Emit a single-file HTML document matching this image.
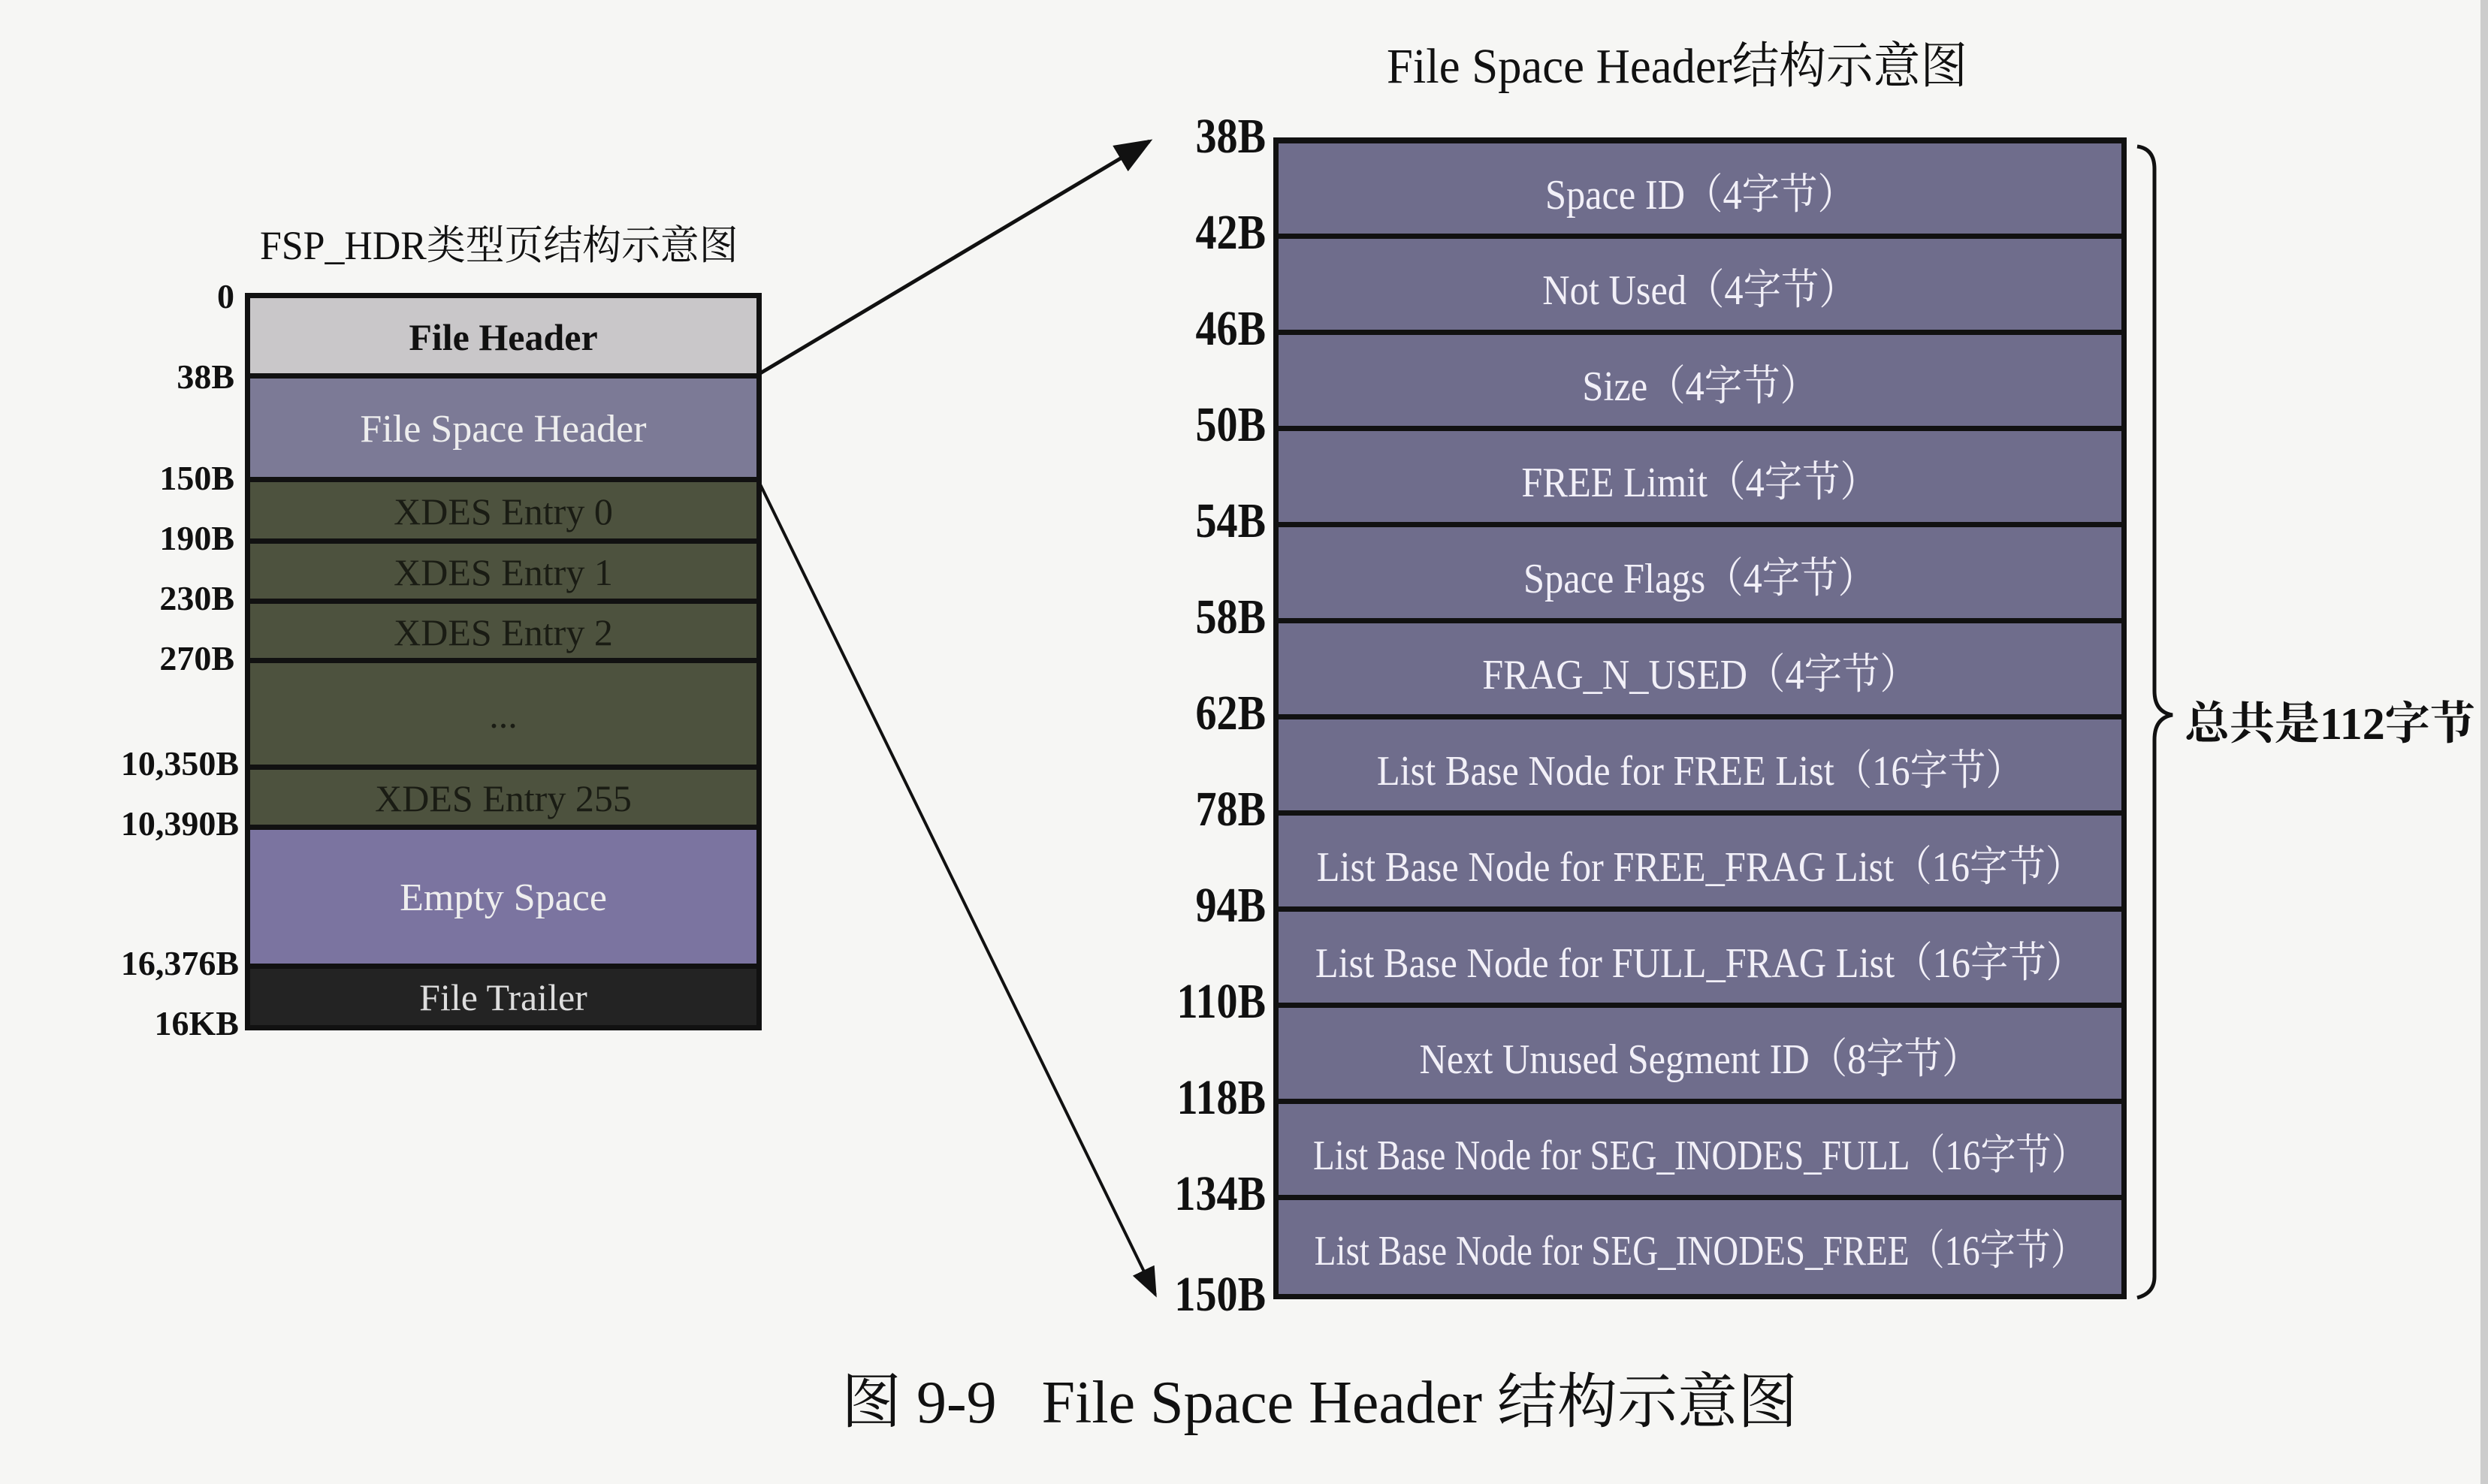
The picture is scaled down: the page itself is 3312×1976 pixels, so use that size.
<!DOCTYPE html>
<html><head><meta charset="utf-8"><style>
body{margin:0;width:3312px;height:1976px;background:#f6f6f4;position:relative;overflow:hidden;font-family:"Liberation Serif","Noto Serif CJK SC",serif;}
.a{position:absolute;}
.row{position:absolute;display:flex;align-items:center;justify-content:center;box-sizing:border-box;border-top:7px solid #111;}
.lt{position:absolute;text-align:right;font-weight:bold;color:#111;}
.rl{position:absolute;width:200px;text-align:right;font-size:66px;color:#111;transform:scaleX(0.85);transform-origin:right center;line-height:60px;font-weight:bold;}
.rr{position:absolute;display:flex;align-items:center;justify-content:center;box-sizing:border-box;border-top:7px solid #111;background:#6f6d8c;color:#f2f0f8;font-size:56px;}
.rr span{display:inline-block;transform:scaleX(0.9);white-space:nowrap;}
</style></head><body>
<div class="a" style="left:1846px;top:34px;font-size:66px;color:#111;white-space:nowrap;transform:scaleX(0.95);transform-origin:left top;">File Space Header结构示意图</div>
<div class="a" style="left:346px;top:284px;font-size:54px;color:#111;white-space:nowrap;transform:scaleX(0.96);transform-origin:left top;">FSP_HDR类型页结构示意图</div>

<!-- left box -->
<div class="a" style="left:326px;top:390px;width:688px;height:982px;background:#111;"></div>
<div class="row" style="left:333px;top:390px;width:674px;height:110px;background:#c9c7c9;border-top-width:7px;font-size:50px;font-weight:bold;color:#111;">File Header</div>
<div class="row" style="left:333px;top:497px;width:674px;height:141px;background:#7c7a96;font-size:52px;color:#eee;">File Space Header</div>
<div class="row" style="left:333px;top:635px;width:674px;height:85px;background:#4d523e;font-size:50px;color:#1a1c14;">XDES Entry 0</div>
<div class="row" style="left:333px;top:717px;width:674px;height:83px;background:#4d523e;font-size:50px;color:#1a1c14;">XDES Entry 1</div>
<div class="row" style="left:333px;top:797px;width:674px;height:82px;background:#4d523e;font-size:50px;color:#1a1c14;">XDES Entry 2</div>
<div class="row" style="left:333px;top:876px;width:674px;height:145px;background:#4d523e;font-size:50px;color:#1a1c14;">...</div>
<div class="row" style="left:333px;top:1018px;width:674px;height:83px;background:#4d523e;font-size:50px;color:#1a1c14;">XDES Entry 255</div>
<div class="row" style="left:333px;top:1098px;width:674px;height:188px;background:#7b74a0;font-size:52px;color:#eee;">Empty Space</div>
<div class="row" style="left:333px;top:1283px;width:674px;height:82px;background:#232323;font-size:50px;color:#ddd;">File Trailer</div>

<div class="lt" style="left:200px;width:112px;top:368px;font-size:46px;">0</div>
<div class="lt" style="left:100px;width:212px;top:475px;font-size:46px;">38B</div>
<div class="lt" style="left:100px;width:212px;top:610px;font-size:46px;">150B</div>
<div class="lt" style="left:100px;width:212px;top:690px;font-size:46px;">190B</div>
<div class="lt" style="left:100px;width:212px;top:770px;font-size:46px;">230B</div>
<div class="lt" style="left:100px;width:212px;top:850px;font-size:46px;">270B</div>
<div class="lt" style="left:100px;width:218px;top:990px;font-size:46px;">10,350B</div>
<div class="lt" style="left:100px;width:218px;top:1070px;font-size:46px;">10,390B</div>
<div class="lt" style="left:100px;width:218px;top:1256px;font-size:46px;">16,376B</div>
<div class="lt" style="left:100px;width:218px;top:1336px;font-size:46px;">16KB</div>

<!-- right box -->
<div class="a" style="left:1695px;top:183px;width:1136px;height:1547px;background:#111;"></div>
<div class="rr" style="left:1702px;top:183px;width:1122px;height:135px;border-top-width:8px;"><span>Space ID（4字节）</span></div>
<div class="rr" style="left:1702px;top:311px;width:1122px;height:135px;"><span>Not Used（4字节）</span></div>
<div class="rr" style="left:1702px;top:439px;width:1122px;height:135px;"><span>Size（4字节）</span></div>
<div class="rr" style="left:1702px;top:567px;width:1122px;height:135px;"><span>FREE Limit（4字节）</span></div>
<div class="rr" style="left:1702px;top:695px;width:1122px;height:135px;"><span>Space Flags（4字节）</span></div>
<div class="rr" style="left:1702px;top:823px;width:1122px;height:135px;"><span>FRAG_N_USED（4字节）</span></div>
<div class="rr" style="left:1702px;top:951px;width:1122px;height:135px;"><span>List Base Node for FREE List（16字节）</span></div>
<div class="rr" style="left:1702px;top:1079px;width:1122px;height:135px;"><span>List Base Node for FREE_FRAG List（16字节）</span></div>
<div class="rr" style="left:1702px;top:1207px;width:1122px;height:135px;"><span>List Base Node for FULL_FRAG List（16字节）</span></div>
<div class="rr" style="left:1702px;top:1335px;width:1122px;height:135px;"><span>Next Unused Segment ID（8字节）</span></div>
<div class="rr" style="left:1702px;top:1463px;width:1122px;height:135px;"><span style="transform:scaleX(0.84)">List Base Node for SEG_INODES_FULL（16字节）</span></div>
<div class="rr" style="left:1702px;top:1591px;width:1122px;height:132px;"><span style="transform:scaleX(0.84)">List Base Node for SEG_INODES_FREE（16字节）</span></div>

<div class="rl" style="left:1485px;top:152px;">38B</div>
<div class="rl" style="left:1485px;top:280px;">42B</div>
<div class="rl" style="left:1485px;top:408px;">46B</div>
<div class="rl" style="left:1485px;top:536px;">50B</div>
<div class="rl" style="left:1485px;top:664px;">54B</div>
<div class="rl" style="left:1485px;top:792px;">58B</div>
<div class="rl" style="left:1485px;top:920px;">62B</div>
<div class="rl" style="left:1485px;top:1048px;">78B</div>
<div class="rl" style="left:1485px;top:1176px;">94B</div>
<div class="rl" style="left:1485px;top:1304px;">110B</div>
<div class="rl" style="left:1485px;top:1432px;">118B</div>
<div class="rl" style="left:1485px;top:1560px;">134B</div>
<div class="rl" style="left:1485px;top:1694px;">150B</div>

<svg class="a" style="left:0;top:0" width="3312" height="1976">
<defs><marker id="m" markerWidth="10" markerHeight="8" refX="9" refY="4" orient="auto" markerUnits="strokeWidth"><path d="M0,0 L10,4 L0,8 z" fill="#111"/></marker></defs>
<line x1="1012" y1="497" x2="1530" y2="188" stroke="#111" stroke-width="5" marker-end="url(#m)"/>
<line x1="1012" y1="645" x2="1538" y2="1724" stroke="#111" stroke-width="4" marker-end="url(#m)"/>
<path d="M2845,195 Q2868,198 2868,225 L2868,920 Q2868,948 2892,952 Q2868,956 2868,985 L2868,1700 Q2868,1722 2845,1728" fill="none" stroke="#111" stroke-width="5"/>
</svg>
<div class="a" style="left:2908px;top:916px;font-size:60px;font-weight:bold;color:#111;white-space:nowrap;font-family:'Liberation Serif','Noto Serif CJK SC',serif;">总共是112字节</div>
<div class="a" style="left:3302px;top:0;width:10px;height:1976px;background:#ccc;"></div>

<div class="a" style="left:1120px;top:1802px;font-size:80px;color:#111;white-space:nowrap;font-family:'Liberation Serif','Noto Serif CJK SC',serif;">图 9-9&nbsp;&nbsp;&nbsp;File Space Header 结构示意图</div>
</body></html>
